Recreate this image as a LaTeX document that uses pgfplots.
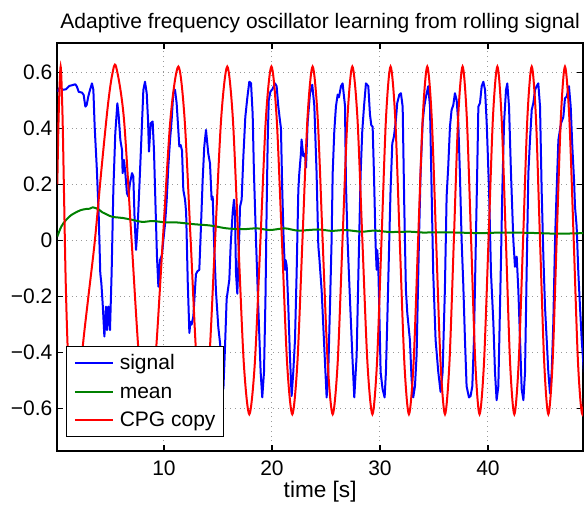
\documentclass[border=0pt]{standalone}
\usepackage{fontspec}
\setmainfont{Liberation Sans}
\usepackage{pgfplots}
\pgfplotsset{compat=1.18}
\newcommand{\figfont}{\fontsize{10.5}{12.6}\selectfont}
\begin{document}
\begin{tikzpicture}
\begin{axis}[
    scale only axis, width=262.85pt, height=204pt,
    xmin=0.12, xmax=48.8, ymin=-0.75, ymax=0.705,
    xtick={10,20,30,40}, xticklabels={10,20,30,40},
    ytick={-0.6,-0.4,-0.2,0,0.2,0.4,0.6},
    yticklabels={−0.6,−0.4,−0.2,0,0.2,0.4,0.6},
    tick align=inside, major tick length=3pt,
    tick style={black, line width=0.6pt},
    axis line style={line width=0.8pt},
    xmajorgrids, ymajorgrids,
    major grid style={dotted, line width=0.5pt, black!40},
    tick label style={font=\figfont, inner sep=0pt},
    yticklabel style={anchor=east, xshift=-2.3pt},
    xticklabel style={anchor=base, yshift=-12.15pt},
    xlabel={time [s]},
    xlabel style={font=\fontsize{11.3}{13}\selectfont, at={(axis description cs:0.5,0)}, anchor=base, yshift=-23.15pt, inner sep=0pt},
    title={Adaptive frequency oscillator learning from rolling signal},
    title style={font=\figfont, at={(axis description cs:0.5,1)}, anchor=base, yshift=1pt, inner sep=0pt},
    legend cell align=left,
    legend image code/.code={\draw[#1] (0pt,0pt) -- (19.2pt,0pt);},
    legend style={at={(axis description cs:0.016,0.0328)}, anchor=south west,
        font=\figfont, draw=black, line width=0.5pt, fill=white,
        inner xsep=3.8pt, inner ysep=1.2pt, row sep=0pt,
        nodes={inner xsep=0pt, inner ysep=0pt, text height=10.3pt, text depth=3.9pt}},
    /tikz/every odd column/.append style={column sep=2.8pt},
]
\coordinate (ll) at (rel axis cs:0,0);

% signal
\addplot[blue, line width=1pt, line join=round] coordinates {
(0.15,0.53) (0.37,0.548) (0.62,0.537) (0.93,0.539) (1.23,0.551) (1.54,0.554) (1.79,0.557) (1.94,0.548)
(2.1,0.53) (2.41,0.527) (2.56,0.519) (2.72,0.477) (2.84,0.483) (2.99,0.513) (3.15,0.537) (3.33,0.56)
(3.46,0.537) (3.58,0.406) (3.77,0.263) (3.95,0.097) (4.1,-0.117) (4.2,-0.153) (4.32,-0.224) (4.48,-0.343)
(4.63,-0.236) (4.72,-0.32) (4.85,-0.236) (5.0,-0.32) (5.15,-0.117) (5.31,0.18) (5.49,0.382) (5.68,0.489)
(5.8,0.447) (5.96,0.358) (6.11,0.323) (6.17,0.24) (6.3,0.287) (6.42,0.24) (6.57,0.168) (6.7,0.156)
(6.85,0.204) (7.04,0.24) (7.16,0.228) (7.28,0.073) (7.41,-0.034) (7.56,0.049) (7.72,0.192) (7.9,0.358)
(8.09,0.537) (8.24,0.566) (8.4,0.525) (8.52,0.43) (8.61,0.317) (8.77,0.418) (8.95,0.424) (9.07,0.323)
(9.2,0.144) (9.35,-0.058) (9.48,-0.165) (9.63,-0.07) (9.81,-0.052) (9.94,0.0) (10.1,0.06) (10.25,0.144)
(10.4,0.263) (10.56,0.358) (10.71,0.43) (10.86,0.525) (11.02,0.537) (11.17,0.49) (11.3,0.41) (11.42,0.335)
(11.54,0.34) (11.67,0.32) (11.79,0.18) (11.95,0.145) (12.05,0.1) (12.2,-0.15) (12.35,-0.33) (12.45,-0.29)
(12.56,-0.30) (12.72,-0.27) (12.96,-0.12) (13.1,-0.11) (13.27,-0.105) (13.4,0.025) (13.58,0.215) (13.73,0.335)
(13.89,0.394) (14.1,0.31) (14.26,0.275) (14.41,0.145) (14.51,0.156) (14.63,0.0) (14.81,-0.18) (15.03,-0.31)
(15.2,-0.37) (15.34,-0.45) (15.5,-0.53) (15.65,-0.38) (15.8,-0.21) (15.96,-0.165) (16.05,-0.14) (16.17,-0.02)
(16.36,0.1) (16.48,0.145) (16.57,0.1) (16.67,-0.12) (16.79,-0.19) (16.91,-0.06) (17.04,0.12) (17.19,0.145)
(17.35,0.3) (17.53,0.44) (17.72,0.51) (17.9,0.566) (18.06,0.56) (18.21,0.45) (18.33,0.24) (18.52,0.0)
(18.73,-0.236) (18.95,-0.47) (19.1,-0.56) (19.26,-0.47) (19.4,-0.2) (19.5,0.1) (19.6,0.35) (19.7,0.5)
(19.85,0.53) (20.05,0.54) (20.28,0.56) (20.43,0.55) (20.58,0.48) (20.73,0.43) (20.83,0.4) (20.95,0.18)
(21.08,0.0) (21.2,-0.105) (21.26,-0.07) (21.36,-0.09) (21.51,-0.235) (21.66,-0.41) (21.82,-0.555) (21.97,-0.47)
(22.13,-0.355) (22.28,-0.12) (22.44,0.18) (22.53,0.24) (22.68,0.31) (22.74,0.36) (22.9,0.3) (23.05,0.31)
(23.15,0.26) (23.3,0.42) (23.52,0.525) (23.73,0.555) (23.92,0.48) (24.13,0.24) (24.29,-0.02) (24.38,-0.06)
(24.6,-0.18) (24.84,-0.38) (25.06,-0.56) (25.21,-0.47) (25.37,-0.235) (25.52,0.0) (25.62,0.24) (25.77,0.39)
(25.92,0.477) (26.08,0.52) (26.2,0.51) (26.39,0.55) (26.54,0.56) (26.76,0.48) (26.85,0.2) (27.0,0.0)
(27.22,-0.21) (27.44,-0.41) (27.62,-0.56) (27.84,-0.41) (28.0,-0.12) (28.21,0.24) (28.36,0.39) (28.52,0.477)
(28.7,0.56) (28.92,0.55) (29.07,0.45) (29.2,0.41) (29.32,0.406) (29.44,0.24) (29.6,-0.02) (29.69,-0.105)
(29.75,-0.035) (29.84,-0.09) (29.93,-0.236) (30.06,-0.47) (30.24,-0.53) (30.43,-0.56) (30.55,-0.47) (30.71,-0.236)
(30.86,0.0) (30.98,0.18) (31.14,0.346) (31.29,0.37) (31.45,0.42) (31.6,0.49) (31.79,0.52) (31.94,0.525)
(32.1,0.477) (32.25,0.12) (32.4,-0.176) (32.53,-0.26) (32.62,-0.295) (32.77,-0.355) (32.93,-0.497) (33.08,-0.56)
(33.24,-0.52) (33.39,-0.41) (33.61,0.0) (33.76,0.24) (33.95,0.42) (34.1,0.477) (34.26,0.513) (34.47,0.55)
(34.63,0.477) (34.78,0.18) (34.93,-0.117) (35.15,-0.355) (35.4,-0.47) (35.61,-0.54) (35.8,-0.47) (36.01,-0.176)
(36.17,0.156) (36.32,0.263) (36.48,0.406) (36.63,0.465) (36.79,0.483) (36.94,0.525) (37.1,0.5) (37.25,0.42)
(37.4,0.24) (37.56,0.0) (37.71,-0.153) (37.87,-0.355) (38.02,-0.52) (38.24,-0.56) (38.39,-0.555) (38.55,-0.52)
(38.7,-0.355) (38.88,0.0) (39.0,0.24) (39.11,0.477) (39.26,0.49) (39.42,0.55) (39.57,0.566) (39.73,0.537)
(39.88,0.42) (39.97,0.323) (40.1,0.18) (40.28,-0.117) (40.5,-0.295) (40.65,-0.47) (40.8,-0.57) (40.96,-0.52)
(41.05,-0.355) (41.21,-0.058) (41.33,0.18) (41.49,0.42) (41.67,0.537) (41.79,0.56) (41.95,0.477) (42.13,0.24)
(42.35,0.0) (42.5,-0.094) (42.66,-0.058) (42.81,-0.176) (42.97,-0.355) (43.12,-0.53) (43.28,-0.57) (43.43,-0.47)
(43.58,-0.117) (43.74,0.24) (43.89,0.358) (44.05,0.465) (44.2,0.49) (44.36,0.537) (44.51,0.55) (44.66,0.56)
(44.82,0.477) (44.97,0.18) (45.13,-0.058) (45.28,-0.236) (45.44,-0.355) (45.59,-0.47) (45.74,-0.545) (45.9,-0.47)
(46.05,-0.295) (46.21,0.0) (46.36,0.18) (46.52,0.358) (46.76,0.417) (46.98,0.44) (47.13,0.507) (47.29,0.513)
(47.5,0.55) (47.66,0.477) (47.81,0.335) (47.97,0.215) (48.06,0.12) (48.21,0.05) (48.37,-0.117) (48.52,-0.236)
(48.68,-0.355) (48.89,-0.47)
};
\addlegendentry{signal}

% mean
\addplot[color={rgb,1:red,0;green,0.5;blue,0}, line width=1pt, smooth] coordinates {
(0.12,0.014) (0.5,0.05) (0.93,0.073) (1.4,0.09) (1.85,0.10) (2.3,0.108) (2.78,0.112) (3.1,0.113)
(3.4,0.118) (3.7,0.115) (4.0,0.109) (4.3,0.1) (4.63,0.094) (5.0,0.087) (5.4,0.083) (6.17,0.080)
(7.1,0.073) (8.0,0.066) (8.95,0.069) (10.2,0.064) (11.2,0.064) (12.7,0.058) (14.3,0.053) (15.8,0.043)
(17.3,0.04) (18.6,0.043) (19.8,0.037) (21.2,0.043) (22.4,0.035) (24.3,0.039) (25.5,0.034) (26.8,0.037)
(28.3,0.031) (29.5,0.035) (30.9,0.030) (32.8,0.031) (34.0,0.028) (35.2,0.029) (37.1,0.028) (39.3,0.026)
(41.3,0.028) (43.7,0.027) (46.5,0.024) (48.8,0.026)
};
\addlegendentry{mean}

% CPG copy
\addplot[red, line width=1pt, smooth] coordinates {
(0.12,0.2) (0.25,0.45) (0.43,0.62) (0.6,0.45) (0.75,0.15) (0.9,-0.15) (1.1,-0.4) (1.4,-0.58)
(1.7,-0.62) (2.1,-0.55) (2.5,-0.37) (3.0,-0.2) (3.6,0.0) (4.2,0.25) (4.8,0.48) (5.2,0.59)
(5.56,0.62) (6.28,0.438) (7.0,0) (7.73,-0.438) (8.45,-0.62) (9.17,-0.438) (9.89,0) (10.61,0.438)
(11.33,0.62) (11.90,0.438) (12.47,0) (13.03,-0.438) (13.6,-0.62) (14.17,-0.438) (14.73,0) (15.30,0.438)
(15.86,0.62) (16.37,0.438) (16.88,0) (17.39,-0.438) (17.9,-0.62) (18.41,-0.438) (18.93,0) (19.44,0.438)
(19.95,0.62) (20.43,0.438) (20.92,0) (21.40,-0.438) (21.88,-0.62) (22.35,-0.438) (22.82,0) (23.29,0.438)
(23.76,0.62) (24.23,0.438) (24.69,0) (25.16,-0.438) (25.62,-0.62) (26.08,-0.438) (26.53,0) (26.99,0.438)
(27.44,0.62) (27.91,0.438) (28.37,0) (28.84,-0.438) (29.3,-0.62) (29.72,-0.438) (30.14,0) (30.56,0.438)
(30.98,0.62) (31.41,0.438) (31.83,0) (32.26,-0.438) (32.68,-0.62) (33.11,-0.438) (33.53,0) (33.96,0.438)
(34.38,0.62) (34.79,0.438) (35.20,0) (35.61,-0.438) (36.02,-0.62) (36.43,-0.438) (36.84,0) (37.24,0.438)
(37.65,0.62) (38.04,0.438) (38.44,0) (38.83,-0.438) (39.22,-0.62) (39.63,-0.438) (40.05,0) (40.46,0.438)
(40.87,0.62) (41.26,0.438) (41.66,0) (42.05,-0.438) (42.44,-0.62) (42.84,-0.438) (43.25,0) (43.65,0.438)
(44.05,0.62) (44.44,0.438) (44.82,0) (45.21,-0.438) (45.59,-0.62) (45.98,-0.438) (46.36,0) (46.75,0.438)
(47.13,0.62) (47.53,0.438) (47.94,0) (48.34,-0.438) (48.74,-0.62) (49.14,-0.438)
};
\addlegendentry{CPG copy}
\end{axis}
\pgfresetboundingbox
\path[use as bounding box] (ll) ++(-28.65pt,-26.65pt) rectangle ++(292pt,252pt);
\end{tikzpicture}
\end{document}
